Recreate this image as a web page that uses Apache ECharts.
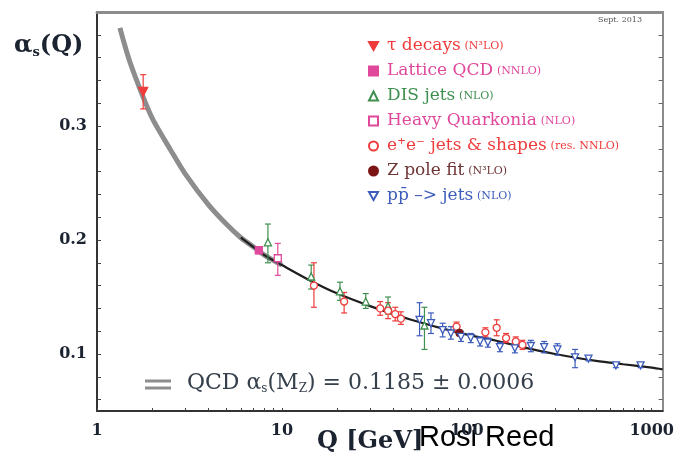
<!DOCTYPE html>
<html><head><meta charset="utf-8">
<script src="https://cdn.jsdelivr.net/npm/echarts@6/dist/echarts.min.js"></script>
<style>html,body{margin:0;padding:0;background:#fff}#c{width:677px;height:458px}</style>
</head><body><div id="c"></div>
<script>
// Running coupling curve
const curveQ = [1.33, 1.5, 1.78, 2, 2.5, 3, 4, 5, 6, 7, 8, 10, 14, 20, 30, 50, 91.2, 150, 200, 300, 500, 700, 1000, 1145];
const curveA = [0.386, 0.357, 0.325, 0.306, 0.279, 0.258, 0.231, 0.214, 0.202, 0.194, 0.187, 0.178, 0.165, 0.153, 0.142, 0.130, 0.1185, 0.111, 0.106, 0.100, 0.094, 0.091, 0.088, 0.0865];

// Measurements: [Q, alpha_s, low, high]
const tauDecays = [[1.777, 0.330, 0.315, 0.345]];
const latticeQCD = [[7.5, 0.191, 0.188, 0.194]];
const disJets = [[8.4, 0.198, 0.180, 0.214], [14.4, 0.168, 0.157, 0.178], [20.6, 0.155, 0.147, 0.163], [28.4, 0.146, 0.140, 0.153], [37.5, 0.142, 0.135, 0.150], [59, 0.125, 0.104, 0.141]];
const heavyQuarkonia = [[9.5, 0.184, 0.169, 0.197]];
const eeJets = [[14.9, 0.160, 0.141, 0.180], [21.7, 0.146, 0.136, 0.154], [34, 0.140, 0.134, 0.146], [37.5, 0.138, 0.131, 0.145], [41, 0.135, 0.129, 0.141], [44, 0.131, 0.126, 0.137], [88, 0.124, 0.120, 0.128], [126, 0.119, 0.115, 0.123], [145, 0.123, 0.116, 0.130], [163, 0.114, 0.110, 0.118], [184, 0.111, 0.107, 0.115], [200, 0.108, 0.104, 0.112]];
const zPoleFit = [[91.2, 0.1185, 0.116, 0.121]];
const ppbarJets = [[55.5, 0.130, 0.116, 0.145], [64, 0.127, 0.118, 0.136], [74, 0.121, 0.115, 0.127], [82, 0.118, 0.113, 0.124], [93, 0.115, 0.111, 0.120], [105, 0.114, 0.110, 0.118], [118, 0.111, 0.107, 0.115], [130, 0.110, 0.106, 0.114], [151, 0.106, 0.102, 0.110], [182, 0.105, 0.101, 0.109], [222, 0.107, 0.102, 0.112], [262, 0.106, 0.101, 0.111], [309, 0.104, 0.099, 0.109], [385, 0.097, 0.088, 0.104], [455, 0.096, 0.094, 0.098], [640, 0.090, 0.088, 0.092], [870, 0.090, 0.088, 0.092]];

const xTickValues = [1, 2, 3, 4, 5, 6, 7, 8, 9, 10, 20, 30, 40, 50, 60, 70, 80, 90, 100, 200, 300, 400, 500, 600, 700, 800, 900, 1000];
const xLabelValues = [1, 10, 100, 1000];
const yTickValues = [0.06, 0.08, 0.1, 0.12, 0.14, 0.16, 0.18, 0.2, 0.22, 0.24, 0.26, 0.28, 0.3, 0.32, 0.34, 0.36, 0.38];
const yLabelValues = [0.1, 0.2, 0.3];

const legendNames = ['τ decays', 'Lattice QCD', 'DIS jets', 'Heavy Quarkonia', 'e⁺e⁻ jets & shapes', 'Z pole fit', 'pp̄ –> jets'];
const legendOrders = ['(N³LO)', '(NNLO)', '(NLO)', '(NLO)', '(res. NNLO)', '(N³LO)', '(NLO)'];

const RED = '#ee3b3b', PINK = '#e0489c', GREEN = '#3f8f4f', DARK = '#7b1515', BLUE = '#3d5cba';
const SERIF = '"DejaVu Serif", "Liberation Serif", serif';
const DOWN_TRI = 'path://M0,0L10,0L5,9Z';

function errRender(color) {
  return function (params, api) {
    const q = api.value(0), lo = api.value(2), hi = api.value(3);
    const a = api.coord([q, lo]), b = api.coord([q, hi]);
    const w = 3, st = { stroke: color, lineWidth: 1.2, fill: null };
    return { type: 'group', children: [
      { type: 'line', shape: { x1: a[0], y1: a[1], x2: b[0], y2: b[1] }, style: st },
      { type: 'line', shape: { x1: a[0] - w, y1: a[1], x2: a[0] + w, y2: a[1] }, style: st },
      { type: 'line', shape: { x1: b[0] - w, y1: b[1], x2: b[0] + w, y2: b[1] }, style: st }
    ] };
  };
}

const sets = [
  { data: tauDecays, color: RED, symbol: DOWN_TRI, size: 9, fill: RED },
  { data: latticeQCD, color: PINK, symbol: 'rect', size: 7, fill: PINK },
  { data: disJets, color: GREEN, symbol: 'triangle', size: 7, fill: '#fff' },
  { data: heavyQuarkonia, color: PINK, symbol: 'rect', size: 7, fill: '#fff' },
  { data: eeJets, color: RED, symbol: 'circle', size: 7, fill: '#fff' },
  { data: zPoleFit, color: DARK, symbol: 'circle', size: 7, fill: DARK },
  { data: ppbarJets, color: BLUE, symbol: DOWN_TRI, size: 7, fill: '#fff' }
];
const textColors = [RED, PINK, GREEN, PINK, RED, '#6e3434', BLUE];

const series = [
  { type: 'line', name: 'band', data: curveQ.map((q, i) => [q, curveA[i]]).filter(p => p[0] <= 10),
    smooth: 0.3, symbol: 'none', lineStyle: { color: '#8d8d8d', width: 5 }, z: 1, silent: true },
  { type: 'line', name: 'central', data: curveQ.map((q, i) => [q, curveA[i]]).filter(p => p[0] >= 6),
    smooth: 0.3, symbol: 'none', lineStyle: { color: '#1e1e1e', width: 2.2 }, z: 2, silent: true }
];
sets.forEach((s, i) => {
  series.push({ type: 'custom', name: 'err' + i, data: s.data, renderItem: errRender(s.color),
    encode: { x: 0, y: 1 }, z: 3, silent: true });
  series.push({ type: 'scatter', name: legendNames[i], data: s.data.map(d => [d[0], d[1]]),
    symbol: s.symbol, symbolSize: s.size,
    itemStyle: { color: s.fill, borderColor: s.color, borderWidth: 1.3, opacity: 1 }, z: 4 });
});

const chart = echarts.init(document.getElementById('c'));
chart.setOption({
  animation: false,
  backgroundColor: '#fff',
  grid: { left: 97, right: 5, top: 12, bottom: 47 },
  xAxis: [
    { type: 'log', logBase: 10, min: 1, max: 1145, position: 'bottom',
      axisLine: { lineStyle: { color: '#333', width: 2 } },
      axisTick: { inside: true, length: 3, customValues: xTickValues, lineStyle: { color: '#444' } },
      axisLabel: { customValues: xLabelValues, formatter: v => String(Math.round(v)), margin: 12, fontFamily: SERIF, fontWeight: 'bold', fontSize: 16, color: '#1b2230' },
      splitLine: { show: false }, minorTick: { show: false } },
    { type: 'log', logBase: 10, min: 1, max: 1145, position: 'top',
      axisLine: { lineStyle: { color: '#8c8c8c', width: 3 } },
      axisTick: { show: false }, axisLabel: { show: false }, splitLine: { show: false } }
  ],
  yAxis: [
    { type: 'value', min: 0.05, max: 0.4, position: 'left',
      axisLine: { show: true, lineStyle: { color: '#333', width: 2 } },
      axisTick: { show: true, inside: true, length: 4, customValues: yTickValues, lineStyle: { color: '#444' } },
      axisLabel: { customValues: yLabelValues, formatter: v => v.toFixed(1), margin: 10, fontFamily: SERIF, fontWeight: 'bold', fontSize: 16, color: '#1b2230' },
      splitLine: { show: false } },
    { type: 'value', min: 0.05, max: 0.4, position: 'right',
      axisLine: { show: true, lineStyle: { color: '#8c8c8c', width: 2 } },
      axisTick: { show: true, inside: true, length: 4, customValues: yTickValues, lineStyle: { color: '#666' } },
      axisLabel: { show: false }, splitLine: { show: false } }
  ],
  legend: {
    orient: 'vertical', left: 363, top: 32, itemGap: 7, itemWidth: 9, itemHeight: 9,
    selectedMode: false,
    data: legendNames.map((n, i) => ({ name: n, textStyle: { color: textColors[i] } })),
    formatter: name => '{m|' + name + '} {o|' + legendOrders[legendNames.indexOf(name)] + '}',
    textStyle: { fontFamily: SERIF, lineHeight: 18,
      rich: { m: { fontSize: 17, fontFamily: SERIF, padding: [0, 0, 0, 4] }, o: { fontSize: 11, fontFamily: SERIF } } }
  },
  graphic: [
    { type: 'text', left: 14, top: 34, style: { text: '{a|α}{s|s}{a|(Q)}', fill: '#1b2230',
      rich: { a: { fontSize: 24, fontWeight: 'bold', fontFamily: SERIF, fill: '#1b2230' },
              s: { fontSize: 13, fontWeight: 'bold', fontFamily: SERIF, fill: '#1b2230', padding: [14, 0, 0, 0] } } } },
    { type: 'text', left: 317, top: 430, style: { text: 'Q [GeV]', fill: '#1b2230', font: 'bold 24px ' + SERIF } },
    { type: 'text', left: 419, top: 423, style: { text: 'Rosi Reed', fill: '#000', font: '29px "Liberation Sans", Arial, sans-serif' } },
    { type: 'text', left: 598, top: 16, style: { text: 'Sept. 2013', fill: '#555', font: '8px ' + SERIF } },
    { type: 'line', shape: { x1: 145, y1: 381, x2: 171, y2: 381 }, style: { stroke: '#8d8d8d', lineWidth: 3 } },
    { type: 'line', shape: { x1: 145, y1: 388, x2: 171, y2: 388 }, style: { stroke: '#8d8d8d', lineWidth: 3 } },
    { type: 'text', left: 187, top: 372, style: { text: '{a|QCD α}{s|s}{a|(M}{s|Z}{a|) = 0.1185 ± 0.0006}', fill: '#36404c',
      rich: { a: { fontSize: 22, fontFamily: SERIF, fill: '#36404c' },
              s: { fontSize: 12, fontFamily: SERIF, fill: '#36404c', padding: [12, 0, 0, 0] } } } }
  ],
  series: series
});
</script>
</body></html>
